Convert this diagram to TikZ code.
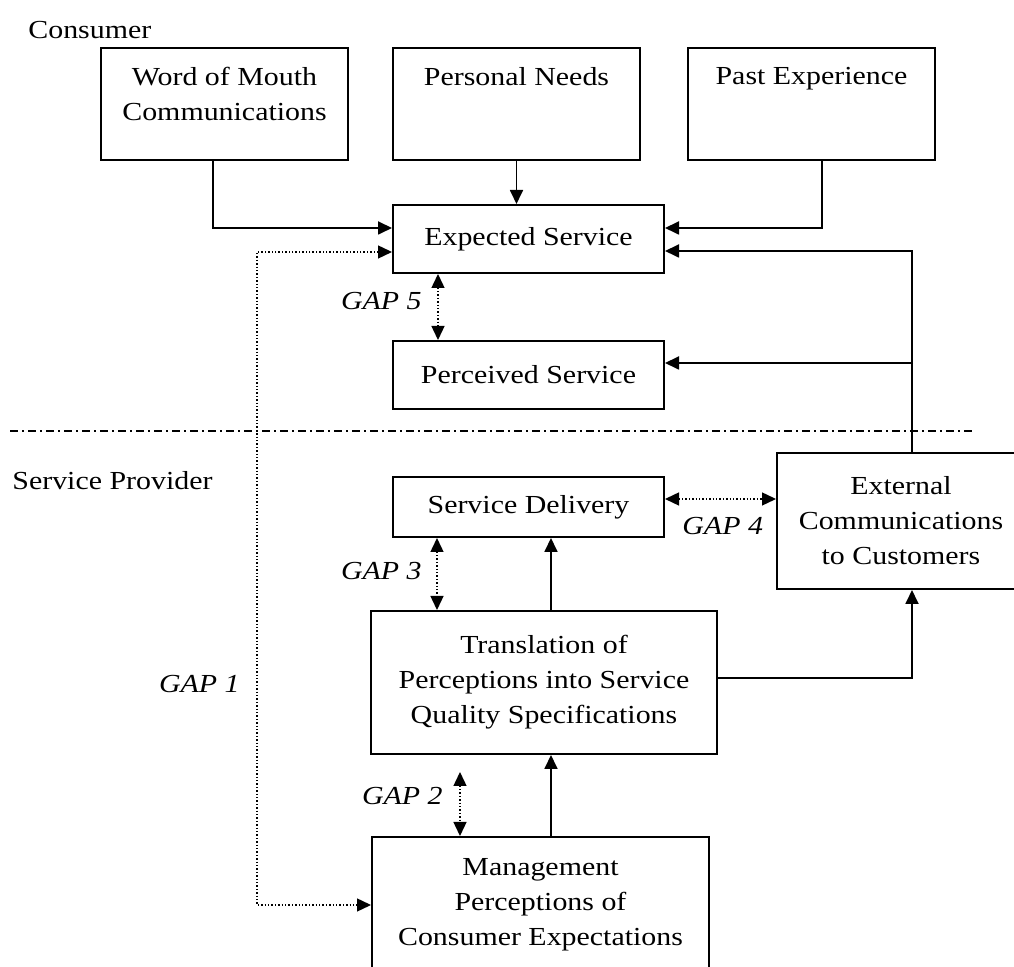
\documentclass[tikz,border=0pt]{standalone}
\usepackage{fontspec}
\setmainfont{Liberation Serif}[FakeStretch=1.15]
\usetikzlibrary{arrows.meta,calc}

\newcommand{\gapfont}{\fontsize{13pt}{17.5pt}\selectfont}

\tikzset{
  box/.style={draw, line width=1pt, rectangle, align=center, inner sep=0pt, font=\gapfont},
  toplbl/.style={anchor=north, align=center, inner sep=0pt, yshift=-10pt, font=\gapfont},
  arr/.style={line width=0.9pt, -{Triangle[length=7pt,width=6.5pt]}},
  gaparr/.style={line width=0.7pt, densely dotted, {Triangle[length=7pt,width=6.5pt]}-{Triangle[length=7pt,width=6.5pt]}},
  gaplbl/.style={font=\gapfont\itshape, inner sep=0pt},
  sidelbl/.style={font=\gapfont, inner sep=0pt, anchor=base west},
  divider/.style={line width=0.6pt, dash pattern=on 4pt off 2pt on 1pt off 2pt}
}

\begin{document}
\begin{tikzpicture}[x=0.5pt,y=-0.5pt]
\useasboundingbox (0,0) rectangle (1014,967);

% Consumer side
\node[sidelbl] (consumerlbl) at (28,39) {Consumer};
\node[box, minimum width=123.5pt, minimum height=56pt,
  label={[toplbl]north:Word of Mouth\\Communications}] (wom) at (224.5,104) {};
\node[box, minimum width=123.5pt, minimum height=56pt,
  label={[toplbl]north:Personal Needs}] (needs) at (516.5,104) {};
\node[box, minimum width=123.5pt, minimum height=56pt,
  label={[toplbl]north:Past Experience}] (past) at (811.5,104) {};
\node[box, minimum width=135.5pt, minimum height=34pt] (expected) at (528.5,239) {Expected Service};
\node[box, minimum width=135.5pt, minimum height=34pt] (perceived) at (528.5,375) {Perceived Service};

% Divider
\draw[divider] (10,431) -- (975,431);

% Service provider side
\node[sidelbl] (providerlbl) at (12,490) {Service Provider};
\node[box, minimum width=135.5pt, minimum height=30pt] (delivery) at (528.5,507) {Service Delivery};
\node[box, minimum width=124pt, minimum height=68pt] (external) at (901,521) {External\\Communications\\to Customers};
\node[box, minimum width=173pt, minimum height=71.5pt] (translation) at (544,682.5) {Translation of\\Perceptions into Service\\Quality Specifications};
\node[box, minimum width=168.5pt, minimum height=68pt] (mgmt) at (540.5,905) {Management\\Perceptions of\\Consumer Expectations};

% Gap labels
\node[gaplbl, anchor=base east] (gap5) at (422,310) {GAP 5};
\node[gaplbl, anchor=base west] (gap4) at (682,535) {GAP 4};
\node[gaplbl, anchor=base east] (gap3) at (422,580) {GAP 3};
\node[gaplbl, anchor=base east] (gap2) at (443,805) {GAP 2};
\node[gaplbl, anchor=base east] (gap1) at (240,693) {GAP 1};

% Solid connectors
\draw[arr] ([xshift=-5.75pt]wom.south) |- ([yshift=5.5pt]expected.west);
\draw[arr] (needs.south) -- (needs.south |- expected.north);
\draw[arr] ([xshift=5.25pt]past.south) |- ([yshift=5.5pt]expected.east);
\draw[arr] ([xshift=5.5pt]external.north) |- ([yshift=-6pt]expected.east);
\draw[arr] ($(perceived.east)+(248,-12)$) -- ($(perceived.east)+(0,-12)$);
\draw[arr] ($(translation.east)+(0,-4.5)$) -| ([xshift=5.5pt]external.south);
\draw[arr] ([xshift=3.5pt]translation.north) -- ([xshift=3.5pt]translation.north |- delivery.south);
\draw[arr] ([xshift=5.25pt]mgmt.north) -- ([xshift=5.25pt]mgmt.north |- translation.south);

% Gaps
\draw[gaparr] ([xshift=23pt]expected.south west) -- ([xshift=23pt]perceived.north west);
\draw[gaparr] ([yshift=4pt]delivery.east) -- ([yshift=4pt]delivery.east -| external.west);
\draw[gaparr] ([xshift=22.5pt]delivery.south west) -- ([xshift=22.5pt]delivery.south west |- translation.north);
\draw[gaparr, shorten <=8.5pt] ([xshift=44.5pt]mgmt.north west |- translation.south) -- ([xshift=44.5pt]mgmt.north west);
\draw[gaparr] ([yshift=-6.5pt]expected.west) -- ++(-135,0) |- (mgmt.west);

\end{tikzpicture}
\end{document}
